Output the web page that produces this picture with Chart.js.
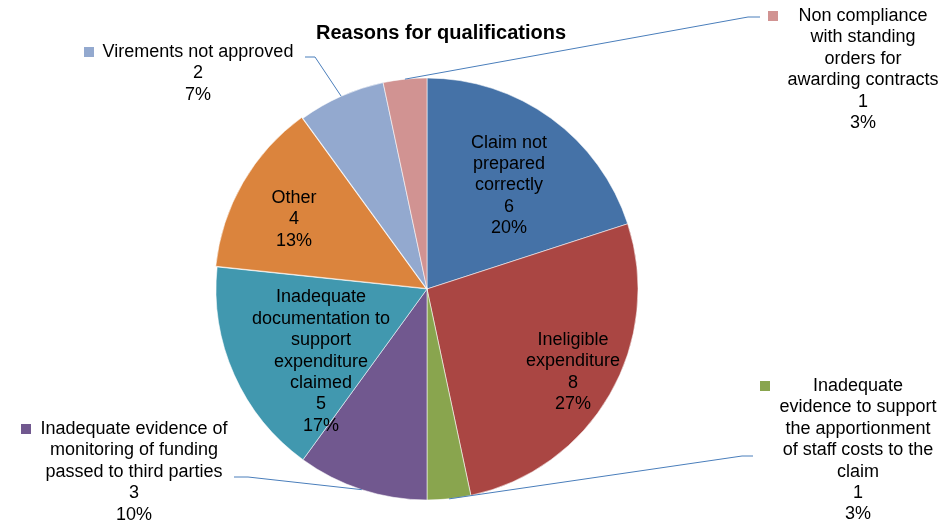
<!DOCTYPE html>
<html>
<head>
<meta charset="utf-8">
<title>Reasons for qualifications</title>
<script src="https://cdn.jsdelivr.net/npm/chart.js@4/dist/chart.umd.min.js"></script>
<style>
    html, body { margin: 0; padding: 0; background: #ffffff; }
    #wrap { width: 951px; height: 521px; }
</style>
</head>
<body>
<div id="wrap"><canvas id="pie" width="951" height="521"></canvas></div>
<script>
// Data
const chartTitle = "Reasons for qualifications";
const categories = [
    "Claim not prepared correctly",
    "Ineligible expenditure",
    "Inadequate evidence to support the apportionment of staff costs to the claim",
    "Inadequate evidence of monitoring of funding passed to third parties",
    "Inadequate documentation to support expenditure claimed",
    "Other",
    "Virements not approved",
    "Non compliance with standing orders for awarding contracts",
];
const counts = [6, 8, 1, 3, 5, 4, 2, 1];

// How each category name wraps in its label
const labelLines = [
    ["Claim not", "prepared", "correctly"],
    ["Ineligible", "expenditure"],
    ["Inadequate", "evidence to support", "the apportionment", "of staff costs to the", "claim"],
    ["Inadequate evidence of", "monitoring of funding", "passed to third parties"],
    ["Inadequate", "documentation to", "support", "expenditure", "claimed"],
    ["Other"],
    ["Virements not approved"],
    ["Non compliance", "with standing", "orders for", "awarding contracts"],
];

// Styles
const sliceColors = ["#4572A7", "#AA4643", "#89A54E", "#71588F", "#4198AF", "#DB843D", "#93A9CF", "#D19392"];
const sliceOffsets = [0, 0, 0, 0, 0, 5, 0, 0];
const leaderColor = "#4a7ebb";
const LINE_H = 21.4;
const FONT = '"Liberation Sans", Arial, sans-serif';

// Where labels go: inside ones sit along the slice's middle angle,
// outside ones get a text block and a leader line back to the slice
const labelPlacement = [
    { inside: true, frac: 0.626, turn: 2.4 },
    { inside: true, frac: 0.796, turn: -0.4 },
    { x: 858, y: 386, leader: [[753, 456], [742, 456]] },
    { x: 134, y: 429, leader: [[234, 477], [248, 477]] },
    { inside: true, frac: 0.609, turn: -10.4 },
    { inside: true, frac: 0.711, turn: -2.4 },
    { x: 198, y: 52, leader: [[305, 57], [315, 57]] },
    { x: 863, y: 16, leader: [[760, 17], [748, 17]] },
];

const total = counts.reduce((a, b) => a + b, 0);
function percentText(i) {
    return Math.round((counts[i] / total) * 100) + "%";
}

function drawLines(ctx, lines, x, y) {
    lines.forEach((line, k) => {
        ctx.fillText(line, x, y + k * LINE_H);
    });
}

// Title, slice labels, legend keys and leader lines
const labelPlugin = {
    id: "sliceLabels",
    afterDraw(chart) {
        const ctx = chart.ctx;
        const arcs = chart.getDatasetMeta(0).data;
        ctx.save();
        ctx.textAlign = "center";
        ctx.textBaseline = "middle";
        ctx.fillStyle = "#000000";
        ctx.font = "bold 20px " + FONT;
        ctx.fillText(chartTitle, 441, 33);

        ctx.font = "18px " + FONT;
        arcs.forEach((arc, i) => {
            const lines = [...labelLines[i], String(counts[i]), percentText(i)];
            const place = labelPlacement[i];
            const mid = (arc.startAngle + arc.endAngle) / 2;
            if (place.inside) {
                const a = mid + (place.turn * Math.PI) / 180;
                const r = arc.outerRadius * place.frac;
                const cx = arc.x + Math.cos(a) * r;
                const cy = arc.y + Math.sin(a) * r;
                ctx.fillStyle = "#000000";
                drawLines(ctx, lines, cx, cy - ((lines.length - 1) * LINE_H) / 2);
                return;
            }
            // Leader line from the label to the slice edge
            const ex = arc.x + Math.cos(mid) * arc.outerRadius;
            const ey = arc.y + Math.sin(mid) * arc.outerRadius;
            ctx.strokeStyle = leaderColor;
            ctx.lineWidth = 1;
            ctx.beginPath();
            ctx.moveTo(place.leader[0][0], place.leader[0][1]);
            ctx.lineTo(place.leader[1][0], place.leader[1][1]);
            ctx.lineTo(ex, ey);
            ctx.stroke();

            ctx.fillStyle = "#000000";
            drawLines(ctx, lines, place.x, place.y);

            // Small colour key left of the text block
            const w = Math.max(...lines.map((l) => ctx.measureText(l).width));
            ctx.fillStyle = sliceColors[i];
            ctx.fillRect(Math.round(place.x - w / 2 - 19), Math.round(place.y - 5), 10, 10);
        });
        ctx.restore();
    },
};

const ctx = document.getElementById("pie").getContext("2d");
const chart = new Chart(ctx, {
    type: "pie",
    data: {
        labels: categories,
        datasets: [
            {
                data: counts,
                backgroundColor: sliceColors,
                borderColor: "rgba(255, 255, 255, 0.55)",
                borderWidth: 1,
                offset: sliceOffsets,
                radius: 211,
            },
        ],
    },
    options: {
        responsive: false,
        animation: false,
        devicePixelRatio: 1,
        rotation: 0,
        layout: {
            padding: { left: 216, right: 313, top: 78, bottom: 21 },
        },
        plugins: {
            legend: { display: false },
            tooltip: { enabled: false },
            title: { display: false },
        },
    },
    plugins: [labelPlugin],
});
</script>
</body>
</html>
